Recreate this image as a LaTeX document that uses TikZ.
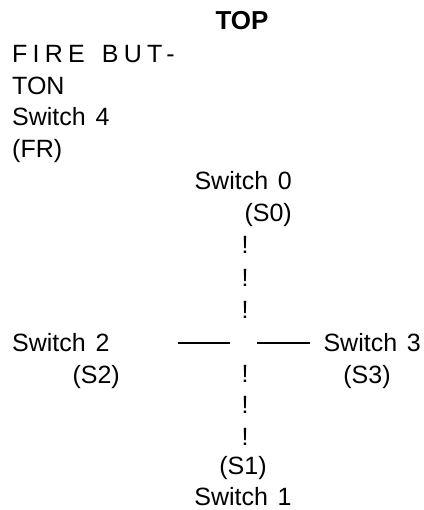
\documentclass[tikz,border=0pt]{standalone}
\usepackage{fontspec}
\setmainfont{Liberation Sans}[WordSpace=1.4]
\usetikzlibrary{positioning}
\tikzset{
  % schilder
  lbl/.style={inner sep=0pt,font=\fontsize{25}{28}\selectfont},
  ttl/.style={lbl,font=\fontsize{26}{28}\selectfont\bfseries},
  spaced/.style={lbl,font=\fontsize{25}{28}\selectfont\addfontfeature{LetterSpace=21}},
  bang/.style={lbl},
  bar/.style={draw=black,line width=1.8pt},
}
\begin{document}
\begin{tikzpicture}[x=1pt,y=-1pt]
  \useasboundingbox (0,0) rectangle (423,510);
  \node[ttl,anchor=base] (top) at (242,30) {TOP};
  % fire button
  \node[spaced,anchor=base west] (fire) at (12,63) {FIRE BUT-};
  \node[lbl,anchor=base west] (fire2) at (12,95) {TON};
  \node[lbl,anchor=base west] (sw4) at (12,126) {Switch 4};
  \node[lbl,anchor=base west] (fr) at (12,158) {(FR)};
  % up
  \node[lbl,anchor=base east] (sw0) at (292,190) {Switch 0};
  \node[lbl,anchor=base east] (s0) at (292,222) {(S0)};
  \foreach \y [count=\i] in {253,286,318} {
    \node[bang,anchor=base] (up\i) at (245,\y) {!};
  }
  % left and right
  \node[lbl,anchor=base west] (sw2) at (12,351) {Switch 2};
  \node[lbl,anchor=base east] (s2) at (120,383) {(S2)};
  \node[lbl,anchor=base east] (sw3) at (421,351) {Switch 3};
  \node[lbl,anchor=base] (s3) at (367,383) {(S3)};
  \coordinate (la) at (178,343);
  \coordinate (lb) at (230,343);
  \coordinate (ra) at (257,343);
  \coordinate (rb) at (310,343);
  \draw[bar] (la) -- (lb);
  \draw[bar] (ra) -- (rb);
  % down
  \foreach \y [count=\i] in {382,413,445} {
    \node[bang,anchor=base] (dn\i) at (245,\y) {!};
  }
  \node[lbl,anchor=base] (s1) at (243,474) {(S1)};
  \node[lbl,anchor=base] (sw1) at (243,505) {Switch 1};
\end{tikzpicture}
\end{document}
